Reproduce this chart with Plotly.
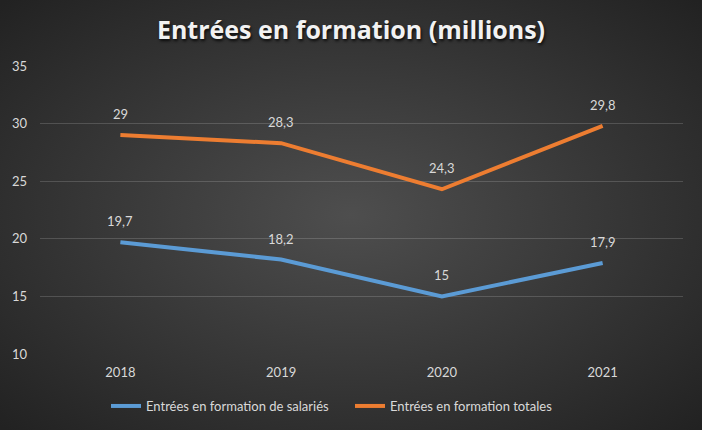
import plotly.graph_objects as go
import base64

years = ["2018", "2019", "2020", "2021"]
salaries = [19.7, 18.2, 15.0, 17.9]
totales = [29.0, 28.3, 24.3, 29.8]
series_names = ["Entrées en formation de salariés", "Entrées en formation totales"]
y_ticks = [10, 15, 20, 25, 30, 35]

W, H = 702, 430
ML, MR, MT, MB = 40, 19, 66, 76
PW, PH = W - ML - MR, H - MT - MB

svg = (
    f'<svg xmlns="http://www.w3.org/2000/svg" width="{W}" height="{H}">'
    '<defs><radialGradient id="g" cx="50%" cy="50%" r="70%">'
    '<stop offset="0%" stop-color="#4e4e4e"/>'
    '<stop offset="100%" stop-color="#222222"/>'
    '</radialGradient></defs>'
    f'<rect width="{W}" height="{H}" fill="url(#g)"/></svg>'
)
bg = "data:image/svg+xml;base64," + base64.b64encode(svg.encode()).decode()

font = "Lato, 'Open Sans', sans-serif"
label_color = "#d9d9d9"

fig = go.Figure()
annotations = []
for name, vals, col in [
    (series_names[0], salaries, "#5B9BD5"),
    (series_names[1], totales, "#ED7D31"),
]:
    fig.add_trace(go.Scatter(
        x=years, y=vals, name=name, mode="lines",
        line=dict(color=col, width=4),
    ))
    for i, v in enumerate(vals):
        annotations.append(dict(
            x=i, y=v, xref="x", yref="y",
            text=f"{v:g}".replace(".", ","), showarrow=False,
            yshift=21, font=dict(family=font, size=13, color=label_color),
        ))

fig.update_layout(
    width=W, height=H, autosize=False,
    margin=dict(l=ML, r=MR, t=MT, b=MB, autoexpand=False),
    paper_bgcolor="#262626",
    plot_bgcolor="rgba(0,0,0,0)",
    images=[dict(
        source=bg, xref="paper", yref="paper",
        x=-ML / PW, y=1 + MT / PH, sizex=W / PW, sizey=H / PH,
        xanchor="left", yanchor="top", sizing="stretch", layer="below",
    )],
    annotations=annotations,
    title=dict(
        text="<b>Entrées en formation (millions)</b>",
        x=0.5, xanchor="center", y=1 - 30 / H, yanchor="middle",
        font=dict(family="'Open Sans', sans-serif", size=25, color="#f2f2f2",
                  shadow="1px 2px 3px rgba(0,0,0,0.8)"),
    ),
    separators=", ",
    showlegend=True,
    legend=dict(
        orientation="h", x=(106 - ML) / PW, xanchor="left",
        yref="container", y=1 - 406 / H, yanchor="middle",
        font=dict(family=font, size=13, color=label_color),
        bgcolor="rgba(0,0,0,0)", itemwidth=30, tracegroupgap=0,
        entrywidth=199, entrywidthmode="pixels",
    ),
    xaxis=dict(
        type="category", range=[-0.5, 3.5], automargin=False,
        showgrid=False, showline=False, zeroline=False,
        tickfont=dict(family=font, size=13, color=label_color),
        ticks="", ticklabelstandoff=9,
    ),
    yaxis=dict(
        range=[10, 35], tickvals=y_ticks, automargin=False,
        showgrid=True, gridcolor="rgba(255,255,255,0.16)", gridwidth=1,
        zeroline=False, showline=False,
        tickfont=dict(family=font, size=13, color=label_color),
        ticks="", ticklabelstandoff=12,
    ),
)

fig.write_html(
    "out.html",
    config={"displayModeBar": False, "responsive": False},
    post_script="document.body.style.margin='0';document.body.style.overflow='hidden';",
)
